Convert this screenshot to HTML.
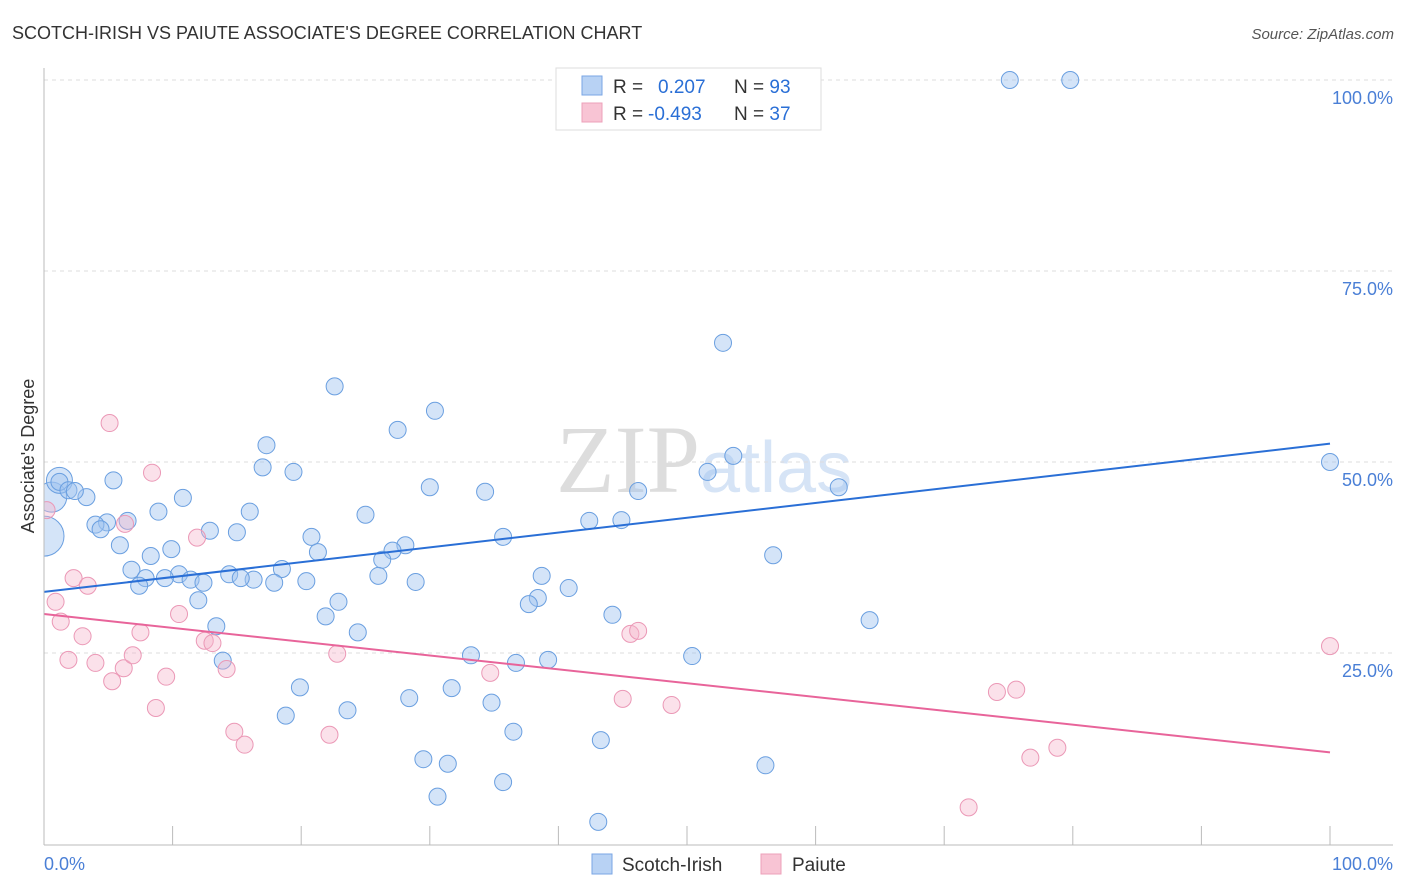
<!DOCTYPE html>
<html><head><meta charset="utf-8"><style>
body{margin:0;background:#fff;font-family:"Liberation Sans",sans-serif}
svg{display:block}
</style></head><body>
<svg id="chart" width="1406" height="892">
<text x="12" y="39" font-size="18" fill="#333">SCOTCH-IRISH VS PAIUTE ASSOCIATE'S DEGREE CORRELATION CHART</text>
<text x="1394" y="39" font-size="15" fill="#555" font-style="italic" text-anchor="end">Source: ZipAtlas.com</text>
<text transform="translate(34,456) rotate(-90)" font-size="18" fill="#333" text-anchor="middle">Associate's Degree</text>
<text x="700" y="492" font-size="96" fill="#ddd" text-anchor="end" font-family="Liberation Serif">ZIP</text>
<text x="700" y="492" font-size="72" fill="#d6e4f6">atlas</text>
<g id="grid"></g><g id="pts"></g><g id="lines"></g>
<line x1="44" y1="68" x2="44" y2="845" stroke="#bbb"/>
<line x1="44" y1="845" x2="1393" y2="845" stroke="#bbb"/>
<text x="44" y="870" font-size="18" fill="#4a7fd6">0.0%</text>
<text x="1393" y="870" font-size="18" fill="#4a7fd6" text-anchor="end">100.0%</text>
<g>
<rect x="556" y="68" width="265" height="62" fill="#fff" stroke="#ddd"/>
<rect x="582" y="76" width="20" height="19" fill="#b8d2f4" stroke="#7aa6e4"/>
<rect x="582" y="103" width="20" height="19" fill="#f8c4d4" stroke="#eda0ba"/>
<text x="613" y="93" font-size="19" fill="#333">R = <tspan fill="#2a6fd6" x="658">0.207</tspan><tspan x="734" fill="#333">N = </tspan><tspan fill="#2a6fd6">93</tspan></text>
<text x="613" y="120" font-size="19" fill="#333">R = <tspan fill="#2a6fd6" x="648">-0.493</tspan><tspan x="734" fill="#333">N = </tspan><tspan fill="#2a6fd6">37</tspan></text>
</g>
<g>
<rect x="592" y="854" width="20" height="20" fill="#b8d2f4" stroke="#7aa6e4"/>
<text x="622" y="871" font-size="19" fill="#333">Scotch-Irish</text>
<rect x="761" y="854" width="20" height="20" fill="#f8c4d4" stroke="#eda0ba"/>
<text x="792" y="871" font-size="19" fill="#333">Paiute</text>
</g>
</svg>
<script>
const yTicks=[25,50,75,100];
const yTickLabels=["25.0%","50.0%","75.0%","100.0%"];
const xTicks=[10,20,30,40,50,60,70,80,90,100];
const blueX=[75.1,79.8,52.8,22.6,30.4,27.5,17.3,53.6,17.0,19.4,51.6,100,30.0,61.8,34.3,46.2,5.4,1.2,1.9,3.3,2.4,10.8,16.0,8.9,25.0,6.5,4.9,4.0,4.4,12.9,15.0,42.4,44.9,20.8,35.7,5.9,28.1,27.1,21.3,9.9,8.3,26.3,56.7,6.8,10.5,7.9,9.4,14.4,16.3,15.3,18.5,11.4,12.4,17.9,20.4,26.0,28.9,38.7,40.8,7.4,12.0,38.4,37.7,22.9,21.9,44.2,64.2,13.4,24.4,33.2,36.7,39.2,50.4,13.9,19.9,31.7,28.4,34.8,18.8,23.6,36.5,43.3,29.5,31.4,56.1,35.7,30.6,43.1];
const blueY=[100,100,65.6,59.9,56.7,54.2,52.2,50.8,49.3,48.7,48.7,50.0,46.7,46.7,46.1,46.2,47.6,47.4,46.3,45.4,46.2,45.3,43.5,43.5,43.1,42.3,42.1,41.8,41.2,41.0,40.8,42.3,42.4,40.2,40.2,39.1,39.1,38.4,38.2,38.6,37.7,37.2,37.8,35.9,35.3,34.8,34.8,35.3,34.6,34.8,36.0,34.6,34.2,34.2,34.4,35.1,34.3,35.1,33.5,33.8,31.9,32.2,31.4,31.7,29.8,30.0,29.3,28.5,27.7,24.7,23.7,24.1,24.6,24.0,20.5,20.4,19.1,18.5,16.8,17.5,14.7,13.6,11.1,10.5,10.3,8.1,6.2,2.9];
const blueBigX=[0,0.6,1.2];
const blueBigY=[40.3,45.4,47.6];
const blueBigR=[20,15,13];
const pinkX=[5.1,8.4,0.2,6.3,11.9,2.3,3.4,0.9,10.5,1.3,3.0,7.5,12.5,13.1,45.6,46.2,1.9,4.0,6.2,6.9,9.5,14.2,5.3,22.8,34.7,8.7,45.0,48.8,74.1,75.6,14.8,15.6,22.2,100,78.8,76.7,71.9];
const pinkY=[55.1,48.6,43.7,41.9,40.1,34.8,33.8,31.7,30.1,29.1,27.2,27.7,26.6,26.3,27.5,27.9,24.1,23.7,23.0,24.7,21.9,22.9,21.3,24.9,22.4,17.8,19.0,18.2,19.9,20.2,14.7,13.0,14.3,25.9,12.6,11.3,4.8];
const blueTrend=[33.0,52.4];
const pinkTrend=[30.1,12.0];
const X=v=>44+v*12.86, Y=v=>844-v*7.64;
const NS="http://www.w3.org/2000/svg";
function mk(t,a,p){const e=document.createElementNS(NS,t);for(const k in a)e.setAttribute(k,a[k]);p.appendChild(e);return e;}
const grid=document.getElementById('grid'),pts=document.getElementById('pts'),lines=document.getElementById('lines');
yTicks.forEach((t,i)=>{
 const l=mk('line',{x1:44,x2:1393,y1:Y(t),y2:Y(t),stroke:'#ddd','stroke-dasharray':'4,4'},grid);
 
 
 const tx=mk('text',{x:1393,y:Y(t)+24,'font-size':18,fill:'#4a7fd6','text-anchor':'end'},grid);
 tx.textContent=yTickLabels[i];
 
 
});
xTicks.forEach(t=>{
 const l=mk('line',{x1:X(t),x2:X(t),y1:826,y2:845,stroke:'#bbb'},grid);
 
 
});
const cp=mk('clipPath',{id:'clip'},pts);
mk('rect',{x:44,y:60,width:1360,height:790},cp);
const g=mk('g',{'clip-path':'url(#clip)'},pts);
blueBigX.forEach((v,i)=>{
 const c=mk('circle',{cx:X(v),cy:Y(blueBigY[i]),r:blueBigR[i],fill:'rgba(160,196,240,0.45)',stroke:'#6a9fe0','stroke-width':1},g);
 
 
});
blueX.forEach((v,i)=>{
 const c=mk('circle',{cx:X(v),cy:Y(blueY[i]),r:8.5,fill:'rgba(160,196,240,0.45)',stroke:'#6a9fe0','stroke-width':1},g);
 
 
});
pinkX.forEach((v,i)=>{
 const c=mk('circle',{cx:X(v),cy:Y(pinkY[i]),r:8.5,fill:'rgba(246,180,202,0.4)',stroke:'#eb98b6','stroke-width':1},g);
 
 
});
const bl=mk('line',{x1:X(0),y1:Y(blueTrend[0]),x2:X(100),y2:Y(blueTrend[1]),stroke:'#2a6fd6','stroke-width':2},lines);


const pl=mk('line',{x1:X(0),y1:Y(pinkTrend[0]),x2:X(100),y2:Y(pinkTrend[1]),stroke:'#e8649a','stroke-width':2},lines);


</script>
</body></html>
